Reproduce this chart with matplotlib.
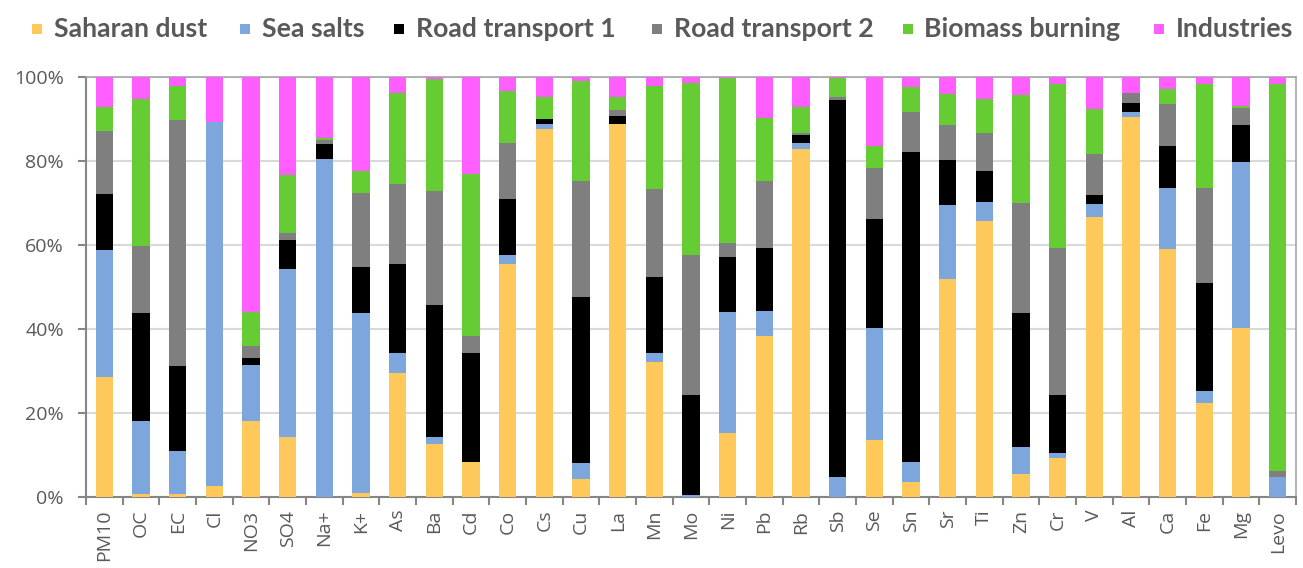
import matplotlib
matplotlib.use("Agg")
import matplotlib.pyplot as plt
from matplotlib.patches import Rectangle
import numpy as np

categories = ["PM10", "OC", "EC", "Cl", "NO3", "SO4", "Na+", "K+", "As", "Ba", "Cd",
              "Co", "Cs", "Cu", "La", "Mn", "Mo", "Ni", "Pb", "Rb", "Sb", "Se", "Sn",
              "Sr", "Ti", "Zn", "Cr", "V", "Al", "Ca", "Fe", "Mg", "Levo"]

series_names = ["Saharan dust", "Sea salts", "Road transport 1", "Road transport 2",
                "Biomass burning", "Industries"]

saharan_dust = [28.7, 0.8, 0.8, 2.7, 18.1, 14.4, 0.0, 1.1, 29.7, 12.7, 8.3,
                55.6, 87.6, 4.4, 88.8, 32.1, 0.0, 15.4, 38.3, 82.9, 0.0, 13.7, 3.7,
                51.9, 65.9, 5.6, 9.3, 66.8, 90.6, 59.1, 22.4, 40.2, 0.0]
sea_salts = [30.2, 17.3, 10.3, 86.6, 13.4, 40.0, 80.6, 42.9, 4.6, 1.7, 0.0,
             2.1, 1.2, 3.7, 0.0, 2.3, 0.5, 28.8, 6.1, 1.5, 4.8, 26.5, 4.6,
             17.6, 4.5, 6.3, 1.3, 3.0, 1.1, 14.6, 3.0, 39.6, 4.8]
road_transport_1 = [13.3, 25.9, 20.2, 0.0, 1.6, 6.9, 3.6, 10.9, 21.3, 31.4, 26.0,
                    13.3, 1.2, 39.5, 2.0, 18.1, 23.9, 13.1, 15.0, 1.9, 89.8, 26.0, 74.0,
                    10.8, 7.3, 32.1, 13.8, 2.2, 2.3, 10.0, 25.6, 8.9, 0.0]
road_transport_2 = [15.0, 15.8, 58.6, 0.0, 3.0, 1.6, 0.9, 17.6, 19.0, 27.1, 4.0,
                    13.4, 0.0, 27.7, 1.4, 21.0, 33.3, 3.2, 15.9, 0.5, 0.6, 12.1, 9.4,
                    8.4, 9.1, 26.0, 35.0, 9.7, 2.3, 9.9, 22.7, 4.1, 1.5]
biomass_burning = [5.7, 35.0, 8.1, 0.0, 8.1, 13.8, 0.5, 5.1, 21.6, 26.7, 38.7,
                   12.3, 5.4, 23.8, 3.2, 24.5, 40.9, 39.3, 15.1, 6.1, 4.6, 5.4, 6.1,
                   7.3, 8.0, 25.8, 38.9, 10.7, 0.0, 3.5, 24.7, 0.4, 92.1]
industries = [7.1, 5.2, 2.0, 10.7, 55.8, 23.3, 14.4, 22.4, 3.8, 0.4, 23.0,
              3.3, 4.6, 0.9, 4.6, 2.0, 1.4, 0.2, 9.6, 7.1, 0.2, 16.3, 2.2,
              4.0, 5.2, 4.2, 1.7, 7.6, 3.7, 2.9, 1.6, 6.8, 1.6]

y_ticks = [0, 20, 40, 60, 80, 100]
y_tick_labels = ["0%", "20%", "40%", "60%", "80%", "100%"]

colors = ["#FFC85A", "#7DA7DC", "#000000", "#7F7F7F", "#66CC33", "#FF5EFF"]
text_color = "#595959"

plt.rcParams['font.family'] = ['Open Sans', 'DejaVu Sans']

fig = plt.figure(figsize=(13.03, 5.68), dpi=100)
ax = fig.add_axes([86 / 1303, 1 - 497.3 / 568, (1296 - 86) / 1303, (497.3 - 77.3) / 568])

data = [saharan_dust, sea_salts, road_transport_1, road_transport_2, biomass_burning, industries]
x = np.arange(len(categories))
bottom = np.zeros(len(categories))
for vals, col, name in zip(data, colors, series_names):
    v = np.array(vals)
    ax.bar(x, v, width=0.48, bottom=bottom, color=col, label=name, linewidth=0, zorder=3)
    bottom += v

ax.set_xlim(-0.5, len(categories) - 0.5)
ax.set_ylim(0, 100)
ax.set_yticks(y_ticks)
ax.set_yticklabels(y_tick_labels, fontsize=14, color=text_color)
ax.set_xticks(x)
ax.set_xticklabels(categories, rotation=90, fontsize=14, color=text_color)
ax.set_xticks(np.arange(-0.5, len(categories), 1.0), minor=True)
ax.tick_params(axis='x', which='major', length=0, pad=9)
ax.tick_params(axis='x', which='minor', length=6, width=1.5, color="#868686")
ax.tick_params(axis='y', which='major', length=6, width=1.5, color="#868686", pad=10)
ax.yaxis.grid(True, color="#D9D9D9", linewidth=1.5, zorder=0)
ax.set_axisbelow(True)
for side in ["left", "bottom"]:
    ax.spines[side].set_color("#868686")
    ax.spines[side].set_linewidth(1.5)
for side in ["top", "right"]:
    ax.spines[side].set_color("#A6A6A6")
    ax.spines[side].set_linewidth(1.2)

# legend, laid out in figure pixel coordinates
legend_x = [32, 240, 394, 652, 903, 1154]
W, H = 1303, 568
for lx, col, name in zip(legend_x, colors, series_names):
    fig.patches.append(Rectangle((lx / W, 1 - 33.5 / H), 10 / W, 10 / H,
                                 transform=fig.transFigure, color=col, linewidth=0))
    fig.text((lx + 21.5) / W, 1 - 37 / H, name, fontsize=19.2, fontweight='bold',
             color=text_color, va='baseline', ha='left',
             family=['Lato', 'DejaVu Sans'])

fig.savefig("out.png", dpi=100)
